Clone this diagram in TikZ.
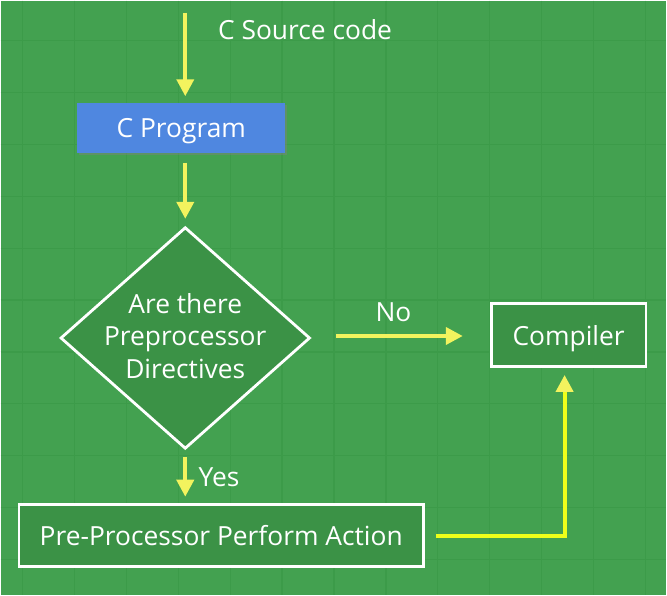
\documentclass[tikz,border=0pt]{standalone}
\usepackage{fontspec}
\setmainfont{Open Sans}
\usetikzlibrary{shapes.geometric,arrows.meta,shadows}

\definecolor{bggreen}{HTML}{43A150}
\definecolor{gridgreen}{HTML}{3C9B49}
\definecolor{boxgreen}{HTML}{3B9246}
\definecolor{progblue}{HTML}{4F87E0}
\definecolor{arrowyellow}{HTML}{F3F35E}
\definecolor{limeyellow}{HTML}{EEFF1A}

\begin{document}
\begin{tikzpicture}[x=1bp, y=-1bp,
    font=\fontsize{26.5}{33}\selectfont, text=white,
    flow/.style={draw=arrowyellow, line width=4bp,
      -{Triangle[length=17bp, width=17bp]}},
    box/.style={draw=white, line width=2.8bp, fill=boxgreen, inner sep=0pt,
      text depth=0pt},
    decision/.style={diamond, draw=white, line width=2.8bp, fill=boxgreen,
      minimum width=250bp, minimum height=222bp, inner sep=0pt}]
    % background
    \fill[bggreen] (0,0) rectangle (667,595);
    \foreach \gx in {22,74,126,178,230,282,334,386,438,490,542,594,646}
      \draw[gridgreen, line width=1.2bp] (\gx,0) -- (\gx,595);
    \foreach \gy in {40,92,144,196,248,300,352,404,456,508,560}
      \draw[gridgreen, line width=1.2bp] (0,\gy) -- (667,\gy);

    \coordinate (start) at (185,12);
    \node (source) at (305,29) {C Source code};
    \node (program) [fill=progblue, minimum width=208bp, minimum height=50bp,
      inner sep=0pt, text depth=0pt, drop shadow={shadow xshift=1.5bp,
      shadow yshift=-1.5bp, opacity=0.45}] at (181,128) {C Program};
    \node (check) [decision] at (185,338) {};
    \node (checktext) [align=center] at (185,336) {Are there\\Preprocessor\\Directives};
    \node (action) [box, minimum width=405bp, minimum height=62bp] at (221,536)
      {Pre-Processor Perform Action};
    \node (compiler) [box, minimum width=155bp, minimum height=63bp] at (569,335)
      {Compiler};

    \coordinate (noA) at (336,336);
    \coordinate (noB) at (463,336);
    \coordinate (yesA) at (185,457);
    \coordinate (yesB) at (185,497);
    \coordinate (upA) at (436,536);
    \coordinate (upB) at (565,375);

    \draw[flow, shorten >=7bp] (start) -- (start |- program.north);
    \draw[flow, shorten <=9bp, shorten >=7bp] (start |- program.south) -- (check.north);
    \draw[flow] (noA) -- node[above=9bp, xshift=-6bp] (no) {No} (noB);
    \draw[flow] (yesA) -- node[right=8bp] (yes) {Yes} (yesB);
    \draw[flow, draw=limeyellow, -{Triangle[length=17bp, width=17bp, color=arrowyellow]}]
      (upA) -| (upB);
  \end{tikzpicture}
\end{document}
